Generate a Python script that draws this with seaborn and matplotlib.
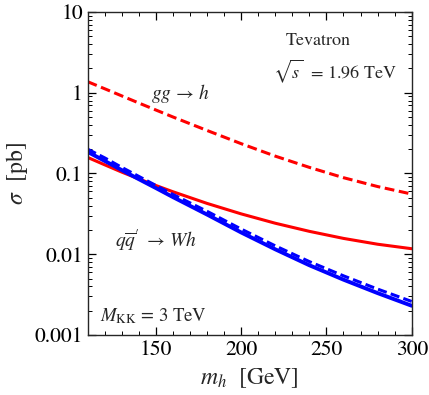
import numpy as np
import pandas as pd
import matplotlib
matplotlib.use("Agg")
import matplotlib.pyplot as plt
import seaborn as sns
from matplotlib.ticker import FixedLocator, MultipleLocator, LogLocator, NullFormatter, FixedFormatter

# ---- data ----
mh = [110, 120, 130, 140, 150, 160, 180, 200, 220, 240, 260, 280, 300]
gg_h_dashed = [1.37, 1.12, 0.914, 0.746, 0.611, 0.501, 0.341, 0.234, 0.164, 0.119, 0.0887, 0.0689, 0.0556]
gg_h_solid = [0.158, 0.128, 0.104, 0.0857, 0.0710, 0.0594, 0.0426, 0.0316, 0.0242, 0.0192, 0.0157, 0.0133, 0.0117]
wh_solid = [0.185, 0.143, 0.110, 0.085, 0.066, 0.051, 0.031, 0.0186, 0.0115, 0.0073, 0.00484, 0.0033, 0.0023]
wh_dashed = [0.200, 0.156, 0.119, 0.092, 0.071, 0.055, 0.034, 0.0205, 0.0127, 0.0081, 0.0054, 0.0037, 0.0026]

yticks = [0.001, 0.01, 0.1, 1, 10]
ytick_labels = ["0.001", "0.01", "0.1", "1", "10"]
xticks = [150, 200, 250, 300]

sns.set_theme(style="ticks")
plt.rcParams["font.family"] = ["STIXGeneral", "DejaVu Serif"]
plt.rcParams["mathtext.fontset"] = "stix"

fig = plt.figure(figsize=(4.29, 3.95), dpi=100)
ax = fig.add_axes([0.2044, 0.152, 0.7553, 0.8176])

series = [
    (gg_h_dashed, (1, 0, 0), 2.2, (3.2, 1.5)),
    (gg_h_solid, (1, 0, 0), 2.2, None),
    (wh_solid, (0, 0, 1), 2.8, None),
    (wh_dashed, (0, 0, 1), 2.2, (3.0, 1.4)),
]
for vals, col, lw, dash in series:
    df = pd.DataFrame({"mh": mh, "sigma": vals})
    sns.lineplot(data=df, x="mh", y="sigma", ax=ax, color=col, lw=lw)
    line = ax.lines[-1]
    if dash is not None:
        line.set_dashes(dash)
        line.set_dash_capstyle("butt")

ax.set_yscale("log")
ax.set_xlim(110, 300)
ax.set_ylim(0.001, 10)

ax.yaxis.set_major_locator(FixedLocator(yticks))
ax.yaxis.set_major_formatter(FixedFormatter(ytick_labels))
ax.yaxis.set_minor_locator(LogLocator(base=10, subs=np.arange(2, 10)))
ax.yaxis.set_minor_formatter(NullFormatter())
ax.xaxis.set_major_locator(FixedLocator(xticks))
ax.xaxis.set_minor_locator(MultipleLocator(10))

ax.tick_params(which="both", direction="in", top=True, right=True, labelsize=15.5, colors="black")
ax.tick_params(which="major", length=6, width=0.9)
ax.tick_params(which="minor", length=3, width=0.7)
for s in ax.spines.values():
    s.set_linewidth(1.0)
    s.set_color("0.15")

ax.set_xlabel(r"$m_h$  [GeV]", fontsize=17, labelpad=5)
ax.set_ylabel(r"$\sigma$  [pb]", fontsize=17, labelpad=3)

ax.text(0.71, 0.91, "Tevatron", transform=ax.transAxes, ha="center", va="center", fontsize=13)
ax.text(0.763, 0.817, r"$\sqrt{s}$  = 1.96 TeV", transform=ax.transAxes, ha="center", va="center", fontsize=13)
ax.text(0.288, 0.749, r"$gg \,\rightarrow\, h$", transform=ax.transAxes, ha="center", va="center", fontsize=14)
ax.text(0.211, 0.291, r"$q\overline{q}^{\prime}\;\rightarrow\, Wh$", transform=ax.transAxes, ha="center", va="center", fontsize=14)
ax.text(0.203, 0.059, r"$M_{\rm KK}$ = 3 TeV", transform=ax.transAxes, ha="center", va="center", fontsize=13.5)

fig.savefig("out.png", dpi=100)
